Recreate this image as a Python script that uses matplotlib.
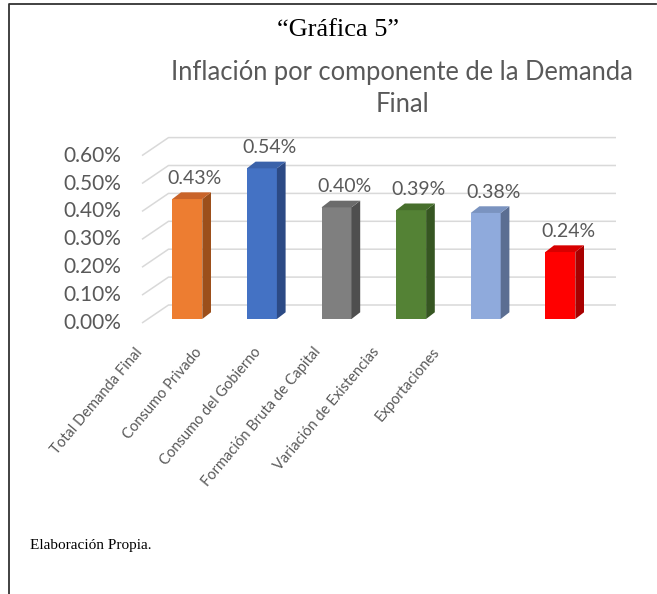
import matplotlib
matplotlib.use("Agg")
import matplotlib.pyplot as plt
from matplotlib.patches import Polygon
from matplotlib.lines import Line2D
import numpy as np

# data (percent)
categories = ["Total Demanda Final", "Consumo Privado", "Consumo del Gobierno",
              "Formación Bruta de Capital", "Variación de Existencias", "Exportaciones"]
values = [0.43, 0.54, 0.40, 0.39, 0.38, 0.24]
front_colors = ["#ED7D31", "#4472C4", "#7F7F7F", "#548235", "#8FAADC", "#FF0000"]
side_colors = ["#9C4F1B", "#2C4A85", "#4F4F4F", "#365622", "#5B6E92", "#A80000"]
top_colors = ["#C9642A", "#3A62AA", "#6B6B6B", "#476F2C", "#7A93C0", "#D80000"]
yticks = [0.0, 0.1, 0.2, 0.3, 0.4, 0.5, 0.6]

W, H = 657, 594
fig = plt.figure(figsize=(W / 100, H / 100), dpi=100)

# pixel layout of the plot area
px_x0, px_unit = 187.3, 74.6     # x of first bar centre, px per category
px_base, px_per = 319.0, 279.0   # y of zero (from top), px per 1 %
ax_l, ax_r, ax_t, ax_b = 130, 640, 120, 330
ax = fig.add_axes([ax_l / W, 1 - ax_b / H, (ax_r - ax_l) / W, (ax_b - ax_t) / H])
ax.set_xlim((ax_l - px_x0) / px_unit, (ax_r - px_x0) / px_unit)
ax.set_ylim(-(ax_b - px_base) / px_per, (px_base - ax_t) / px_per)
ax.axis("off")

grid_col = "#D9D9D9"
front_drop = 4 / px_per
back_rise = 14 / px_per
gx0 = (142 - px_x0) / px_unit
gx1 = (168.5 - px_x0) / px_unit
gx2 = (616 - px_x0) / px_unit
for v in yticks:
    ax.plot([gx0, gx1, gx2], [v - front_drop, v + back_rise, v + back_rise],
            color=grid_col, lw=1.1, zorder=1, solid_capstyle="butt")

# 3d bars
x = np.arange(len(values))
bw = 30 / px_unit
ddx = 8.7 / px_unit
ddy = 6.7 / px_per
ax.bar(x, values, width=bw, color=front_colors, zorder=3)
for xi, v, sc, tc in zip(x, values, side_colors, top_colors):
    r = xi + bw / 2
    l = xi - bw / 2
    ax.add_patch(Polygon([(r, 0), (r + ddx, ddy), (r + ddx, v + ddy), (r, v)],
                         closed=True, facecolor=sc, edgecolor="none", zorder=3))
    ax.add_patch(Polygon([(l, v), (r, v), (r + ddx, v + ddy), (l + ddx, v + ddy)],
                         closed=True, facecolor=tc, edgecolor="none", zorder=3))
    ax.annotate(f"{v:.2f}%", (xi, v), xytext=(5.5, 15), textcoords="offset points",
                ha="center", va="center", fontsize=14, family="Lato",
                color="#595959", zorder=4)

# y tick labels at the front edge of the gridlines
for v in yticks:
    ax.text((121 - px_x0) / px_unit, v - front_drop, f"{v:.2f}%", ha="right",
            va="center", fontsize=15, family="Lato", color="#595959", clip_on=False)

# category labels (perspective-compressed positions)
lab_l, lab_r, lab_y = 145, 442, 345
lax = fig.add_axes([lab_l / W, 1 - lab_y / H, (lab_r - lab_l) / W, 0.001])
lax.set_xlim(0, len(categories) - 1)
lax.set_xticks(range(len(categories)))
lax.set_xticklabels(categories, rotation=50, ha="right", va="top",
                    fontsize=10.5, family="Lato", color="#595959")
lax.tick_params(axis="x", length=0, pad=0)
lax.set_yticks([])
for s in lax.spines.values():
    s.set_visible(False)
lax.patch.set_visible(False)

# titles
fig.text(337.5 / W, 1 - 30 / H, "\u201cGráfica 5\u201d", ha="center", va="center",
         fontsize=19, family="Liberation Serif", color="black")
fig.text(402 / W, 1 - 88.5 / H, "Inflación por componente de la Demanda\nFinal",
         ha="center", va="center", fontsize=18.4, family="Lato", color="#595959",
         linespacing=1.32)
fig.text(30 / W, 1 - 545 / H, "Elaboración Propia.", ha="left", va="center",
         fontsize=11, family="Liberation Serif", color="black")

# page frame
fig.add_artist(Line2D([9 / W, 9 / W, 656 / W], [0, 1 - 4 / H, 1 - 4 / H],
                      color="#333333", lw=1.3, transform=fig.transFigure))

fig.savefig("out.png", dpi=100)
